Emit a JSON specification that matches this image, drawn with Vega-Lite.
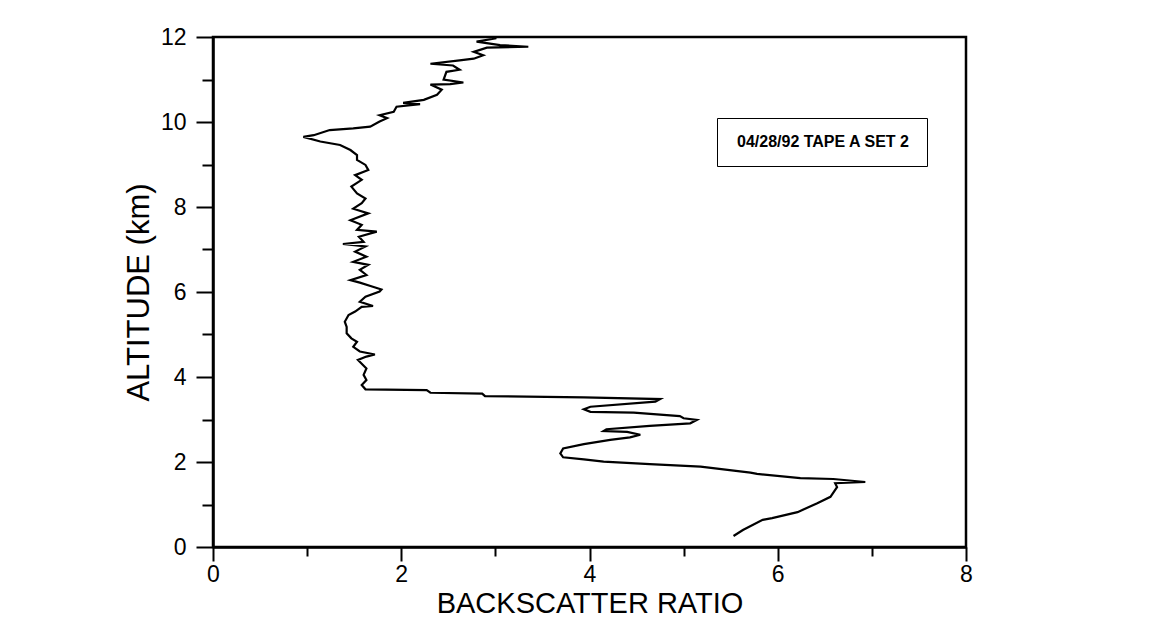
{
  "$schema": "https://vega.github.io/schema/vega-lite/v6.json",
  "autosize": {"type": "none"},
  "width": 753,
  "height": 510,
  "padding": {"left": 213, "top": 37, "right": 201, "bottom": 78},
  "background": "white",
  "config": {
    "font": "Liberation Sans",
    "view": {"stroke": "black", "strokeWidth": 2.5},
    "axis": {"domainColor": "black", "domainWidth": 2.5, "tickColor": "black", "tickWidth": 2, "labelColor": "black", "titleColor": "black", "grid": false, "labelFont": "Liberation Sans", "titleFont": "Liberation Sans", "titleFontWeight": "normal", "labelFlush": false}
  },
  "data": {"values": [
    {"s": "04/28/92 TAPE A SET 2", "alt": 0.26, "ratio": 5.53},
    {"s": "04/28/92 TAPE A SET 2", "alt": 0.40, "ratio": 5.63},
    {"s": "04/28/92 TAPE A SET 2", "alt": 0.64, "ratio": 5.84},
    {"s": "04/28/92 TAPE A SET 2", "alt": 0.68, "ratio": 5.94},
    {"s": "04/28/92 TAPE A SET 2", "alt": 0.82, "ratio": 6.21},
    {"s": "04/28/92 TAPE A SET 2", "alt": 1.03, "ratio": 6.42},
    {"s": "04/28/92 TAPE A SET 2", "alt": 1.18, "ratio": 6.56},
    {"s": "04/28/92 TAPE A SET 2", "alt": 1.41, "ratio": 6.63},
    {"s": "04/28/92 TAPE A SET 2", "alt": 1.50, "ratio": 6.61},
    {"s": "04/28/92 TAPE A SET 2", "alt": 1.53, "ratio": 6.93},
    {"s": "04/28/92 TAPE A SET 2", "alt": 1.60, "ratio": 6.59},
    {"s": "04/28/92 TAPE A SET 2", "alt": 1.62, "ratio": 6.24},
    {"s": "04/28/92 TAPE A SET 2", "alt": 1.72, "ratio": 5.78},
    {"s": "04/28/92 TAPE A SET 2", "alt": 1.75, "ratio": 5.71},
    {"s": "04/28/92 TAPE A SET 2", "alt": 1.89, "ratio": 5.18},
    {"s": "04/28/92 TAPE A SET 2", "alt": 1.95, "ratio": 4.64},
    {"s": "04/28/92 TAPE A SET 2", "alt": 2.01, "ratio": 4.15},
    {"s": "04/28/92 TAPE A SET 2", "alt": 2.06, "ratio": 3.94},
    {"s": "04/28/92 TAPE A SET 2", "alt": 2.11, "ratio": 3.72},
    {"s": "04/28/92 TAPE A SET 2", "alt": 2.20, "ratio": 3.69},
    {"s": "04/28/92 TAPE A SET 2", "alt": 2.32, "ratio": 3.72},
    {"s": "04/28/92 TAPE A SET 2", "alt": 2.42, "ratio": 3.94},
    {"s": "04/28/92 TAPE A SET 2", "alt": 2.52, "ratio": 4.22},
    {"s": "04/28/92 TAPE A SET 2", "alt": 2.58, "ratio": 4.43},
    {"s": "04/28/92 TAPE A SET 2", "alt": 2.64, "ratio": 4.54},
    {"s": "04/28/92 TAPE A SET 2", "alt": 2.71, "ratio": 4.40},
    {"s": "04/28/92 TAPE A SET 2", "alt": 2.73, "ratio": 4.15},
    {"s": "04/28/92 TAPE A SET 2", "alt": 2.77, "ratio": 4.18},
    {"s": "04/28/92 TAPE A SET 2", "alt": 2.85, "ratio": 4.64},
    {"s": "04/28/92 TAPE A SET 2", "alt": 2.91, "ratio": 5.07},
    {"s": "04/28/92 TAPE A SET 2", "alt": 2.99, "ratio": 5.14},
    {"s": "04/28/92 TAPE A SET 2", "alt": 3.03, "ratio": 5.00},
    {"s": "04/28/92 TAPE A SET 2", "alt": 3.08, "ratio": 4.96},
    {"s": "04/28/92 TAPE A SET 2", "alt": 3.16, "ratio": 4.47},
    {"s": "04/28/92 TAPE A SET 2", "alt": 3.18, "ratio": 4.01},
    {"s": "04/28/92 TAPE A SET 2", "alt": 3.24, "ratio": 3.94},
    {"s": "04/28/92 TAPE A SET 2", "alt": 3.30, "ratio": 4.01},
    {"s": "04/28/92 TAPE A SET 2", "alt": 3.42, "ratio": 4.70},
    {"s": "04/28/92 TAPE A SET 2", "alt": 3.48, "ratio": 4.75},
    {"s": "04/28/92 TAPE A SET 2", "alt": 3.52, "ratio": 3.94},
    {"s": "04/28/92 TAPE A SET 2", "alt": 3.55, "ratio": 2.89},
    {"s": "04/28/92 TAPE A SET 2", "alt": 3.61, "ratio": 2.86},
    {"s": "04/28/92 TAPE A SET 2", "alt": 3.63, "ratio": 2.31},
    {"s": "04/28/92 TAPE A SET 2", "alt": 3.69, "ratio": 2.27},
    {"s": "04/28/92 TAPE A SET 2", "alt": 3.71, "ratio": 1.62},
    {"s": "04/28/92 TAPE A SET 2", "alt": 3.81, "ratio": 1.58},
    {"s": "04/28/92 TAPE A SET 2", "alt": 3.93, "ratio": 1.63},
    {"s": "04/28/92 TAPE A SET 2", "alt": 4.05, "ratio": 1.60},
    {"s": "04/28/92 TAPE A SET 2", "alt": 4.20, "ratio": 1.63},
    {"s": "04/28/92 TAPE A SET 2", "alt": 4.40, "ratio": 1.54},
    {"s": "04/28/92 TAPE A SET 2", "alt": 4.48, "ratio": 1.63},
    {"s": "04/28/92 TAPE A SET 2", "alt": 4.53, "ratio": 1.72},
    {"s": "04/28/92 TAPE A SET 2", "alt": 4.60, "ratio": 1.56},
    {"s": "04/28/92 TAPE A SET 2", "alt": 4.71, "ratio": 1.49},
    {"s": "04/28/92 TAPE A SET 2", "alt": 4.83, "ratio": 1.53},
    {"s": "04/28/92 TAPE A SET 2", "alt": 4.91, "ratio": 1.47},
    {"s": "04/28/92 TAPE A SET 2", "alt": 5.03, "ratio": 1.42},
    {"s": "04/28/92 TAPE A SET 2", "alt": 5.18, "ratio": 1.42},
    {"s": "04/28/92 TAPE A SET 2", "alt": 5.30, "ratio": 1.40},
    {"s": "04/28/92 TAPE A SET 2", "alt": 5.46, "ratio": 1.44},
    {"s": "04/28/92 TAPE A SET 2", "alt": 5.54, "ratio": 1.51},
    {"s": "04/28/92 TAPE A SET 2", "alt": 5.65, "ratio": 1.58},
    {"s": "04/28/92 TAPE A SET 2", "alt": 5.67, "ratio": 1.70},
    {"s": "04/28/92 TAPE A SET 2", "alt": 5.77, "ratio": 1.56},
    {"s": "04/28/92 TAPE A SET 2", "alt": 5.89, "ratio": 1.62},
    {"s": "04/28/92 TAPE A SET 2", "alt": 6.01, "ratio": 1.77},
    {"s": "04/28/92 TAPE A SET 2", "alt": 6.06, "ratio": 1.79},
    {"s": "04/28/92 TAPE A SET 2", "alt": 6.13, "ratio": 1.69},
    {"s": "04/28/92 TAPE A SET 2", "alt": 6.22, "ratio": 1.56},
    {"s": "04/28/92 TAPE A SET 2", "alt": 6.28, "ratio": 1.46},
    {"s": "04/28/92 TAPE A SET 2", "alt": 6.40, "ratio": 1.63},
    {"s": "04/28/92 TAPE A SET 2", "alt": 6.52, "ratio": 1.56},
    {"s": "04/28/92 TAPE A SET 2", "alt": 6.64, "ratio": 1.65},
    {"s": "04/28/92 TAPE A SET 2", "alt": 6.71, "ratio": 1.49},
    {"s": "04/28/92 TAPE A SET 2", "alt": 6.83, "ratio": 1.63},
    {"s": "04/28/92 TAPE A SET 2", "alt": 6.95, "ratio": 1.51},
    {"s": "04/28/92 TAPE A SET 2", "alt": 7.07, "ratio": 1.62},
    {"s": "04/28/92 TAPE A SET 2", "alt": 7.13, "ratio": 1.38},
    {"s": "04/28/92 TAPE A SET 2", "alt": 7.18, "ratio": 1.60},
    {"s": "04/28/92 TAPE A SET 2", "alt": 7.30, "ratio": 1.55},
    {"s": "04/28/92 TAPE A SET 2", "alt": 7.42, "ratio": 1.74},
    {"s": "04/28/92 TAPE A SET 2", "alt": 7.46, "ratio": 1.53},
    {"s": "04/28/92 TAPE A SET 2", "alt": 7.58, "ratio": 1.58},
    {"s": "04/28/92 TAPE A SET 2", "alt": 7.69, "ratio": 1.46},
    {"s": "04/28/92 TAPE A SET 2", "alt": 7.85, "ratio": 1.65},
    {"s": "04/28/92 TAPE A SET 2", "alt": 7.96, "ratio": 1.49},
    {"s": "04/28/92 TAPE A SET 2", "alt": 8.09, "ratio": 1.58},
    {"s": "04/28/92 TAPE A SET 2", "alt": 8.20, "ratio": 1.62},
    {"s": "04/28/92 TAPE A SET 2", "alt": 8.32, "ratio": 1.53},
    {"s": "04/28/92 TAPE A SET 2", "alt": 8.48, "ratio": 1.47},
    {"s": "04/28/92 TAPE A SET 2", "alt": 8.64, "ratio": 1.58},
    {"s": "04/28/92 TAPE A SET 2", "alt": 8.75, "ratio": 1.51},
    {"s": "04/28/92 TAPE A SET 2", "alt": 8.87, "ratio": 1.65},
    {"s": "04/28/92 TAPE A SET 2", "alt": 8.99, "ratio": 1.62},
    {"s": "04/28/92 TAPE A SET 2", "alt": 9.11, "ratio": 1.53},
    {"s": "04/28/92 TAPE A SET 2", "alt": 9.22, "ratio": 1.53},
    {"s": "04/28/92 TAPE A SET 2", "alt": 9.34, "ratio": 1.46},
    {"s": "04/28/92 TAPE A SET 2", "alt": 9.46, "ratio": 1.35},
    {"s": "04/28/92 TAPE A SET 2", "alt": 9.54, "ratio": 1.14},
    {"s": "04/28/92 TAPE A SET 2", "alt": 9.65, "ratio": 0.96},
    {"s": "04/28/92 TAPE A SET 2", "alt": 9.69, "ratio": 1.07},
    {"s": "04/28/92 TAPE A SET 2", "alt": 9.81, "ratio": 1.24},
    {"s": "04/28/92 TAPE A SET 2", "alt": 9.85, "ratio": 1.49},
    {"s": "04/28/92 TAPE A SET 2", "alt": 9.89, "ratio": 1.67},
    {"s": "04/28/92 TAPE A SET 2", "alt": 10.01, "ratio": 1.77},
    {"s": "04/28/92 TAPE A SET 2", "alt": 10.09, "ratio": 1.85},
    {"s": "04/28/92 TAPE A SET 2", "alt": 10.16, "ratio": 1.77},
    {"s": "04/28/92 TAPE A SET 2", "alt": 10.24, "ratio": 1.92},
    {"s": "04/28/92 TAPE A SET 2", "alt": 10.36, "ratio": 1.95},
    {"s": "04/28/92 TAPE A SET 2", "alt": 10.42, "ratio": 2.20},
    {"s": "04/28/92 TAPE A SET 2", "alt": 10.45, "ratio": 2.02},
    {"s": "04/28/92 TAPE A SET 2", "alt": 10.52, "ratio": 2.24},
    {"s": "04/28/92 TAPE A SET 2", "alt": 10.64, "ratio": 2.38},
    {"s": "04/28/92 TAPE A SET 2", "alt": 10.76, "ratio": 2.43},
    {"s": "04/28/92 TAPE A SET 2", "alt": 10.88, "ratio": 2.31},
    {"s": "04/28/92 TAPE A SET 2", "alt": 10.89, "ratio": 2.52},
    {"s": "04/28/92 TAPE A SET 2", "alt": 10.93, "ratio": 2.66},
    {"s": "04/28/92 TAPE A SET 2", "alt": 11.00, "ratio": 2.45},
    {"s": "04/28/92 TAPE A SET 2", "alt": 11.18, "ratio": 2.48},
    {"s": "04/28/92 TAPE A SET 2", "alt": 11.23, "ratio": 2.62},
    {"s": "04/28/92 TAPE A SET 2", "alt": 11.33, "ratio": 2.55},
    {"s": "04/28/92 TAPE A SET 2", "alt": 11.37, "ratio": 2.31},
    {"s": "04/28/92 TAPE A SET 2", "alt": 11.45, "ratio": 2.62},
    {"s": "04/28/92 TAPE A SET 2", "alt": 11.49, "ratio": 2.77},
    {"s": "04/28/92 TAPE A SET 2", "alt": 11.57, "ratio": 2.87},
    {"s": "04/28/92 TAPE A SET 2", "alt": 11.65, "ratio": 2.77},
    {"s": "04/28/92 TAPE A SET 2", "alt": 11.75, "ratio": 2.91},
    {"s": "04/28/92 TAPE A SET 2", "alt": 11.77, "ratio": 3.35},
    {"s": "04/28/92 TAPE A SET 2", "alt": 11.81, "ratio": 3.05},
    {"s": "04/28/92 TAPE A SET 2", "alt": 11.89, "ratio": 2.80},
    {"s": "04/28/92 TAPE A SET 2", "alt": 11.97, "ratio": 3.01},
    {"s": "04/28/92 TAPE A SET 2", "alt": 12.00, "ratio": 2.96}
  ]},
  "mark": {"type": "line", "strokeWidth": 2.2, "interpolate": "linear"},
  "encoding": {
    "x": {
      "field": "ratio", "type": "quantitative",
      "scale": {"domain": [0, 8], "nice": false, "zero": false},
      "axis": {
        "title": "BACKSCATTER RATIO", "titleFontSize": 29, "titlePadding": 3,
        "values": [0, 1, 2, 3, 4, 5, 6, 7, 8],
        "labelExpr": "datum.value % 2 === 0 ? datum.label : ''",
        "labelFontSize": 23, "labelPadding": 2,
        "tickSize": {"condition": {"test": "datum.value % 2 === 1", "value": 9}, "value": 14}
      }
    },
    "y": {
      "field": "alt", "type": "quantitative",
      "scale": {"domain": [0, 12], "nice": false, "zero": false},
      "axis": {
        "title": "ALTITUDE (km)", "titleFontSize": 31, "titlePadding": 5,
        "values": [0, 1, 2, 3, 4, 5, 6, 7, 8, 9, 10, 11, 12],
        "labelExpr": "datum.value % 2 === 0 ? datum.label : ''",
        "labelFontSize": 23, "labelPadding": 10,
        "tickSize": {"condition": {"test": "datum.value % 2 === 1", "value": 11}, "value": 17}
      }
    },
    "order": {"field": "alt", "type": "quantitative"},
    "color": {
      "field": "s", "type": "nominal",
      "scale": {"range": ["black"]},
      "legend": {
        "title": null, "orient": "none", "legendX": 504, "legendY": 81,
        "strokeColor": "black", "padding": 16,
        "symbolSize": 0, "symbolOpacity": 0, "symbolStrokeWidth": 0, "labelOffset": -12,
        "labelLimit": 400,
        "labelFontSize": 16, "labelFontWeight": "bold", "labelColor": "black", "labelFont": "Liberation Sans"
      }
    }
  }
}
